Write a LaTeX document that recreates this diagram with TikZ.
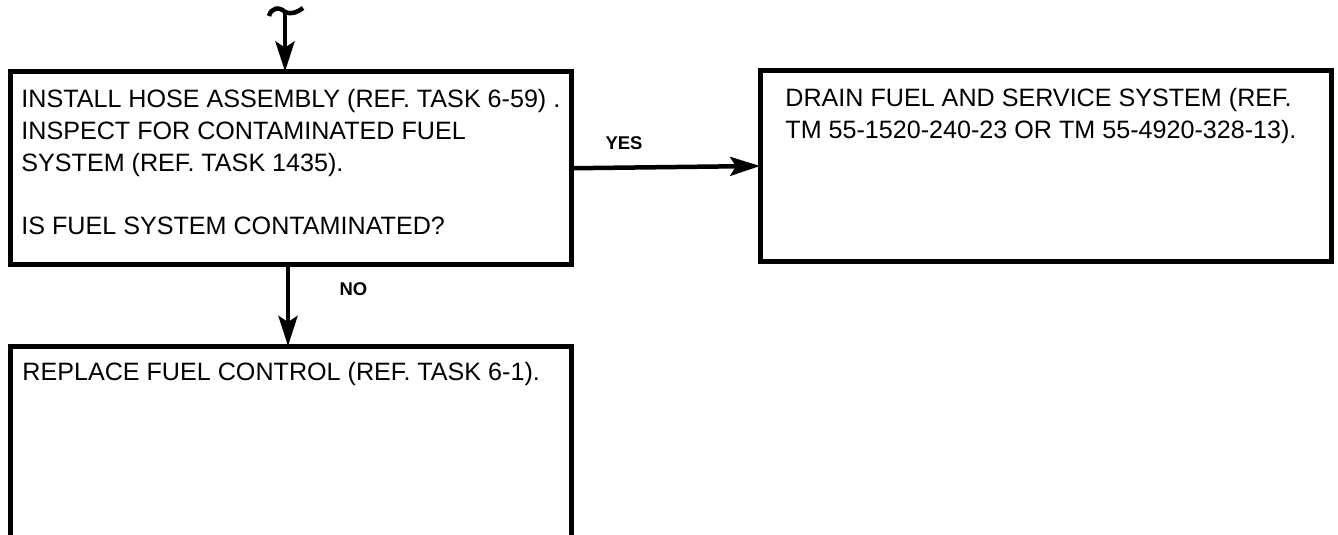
\documentclass[tikz,border=0pt]{standalone}
\usepackage{fontspec}
\setmainfont{Liberation Sans}
\usetikzlibrary{arrows.meta,positioning,calc}

\begin{document}
\begin{tikzpicture}[x=0.02cm, y=-0.02cm,
    stepbox/.style={draw, line width=0.1cm, inner sep=0pt, outer sep=0pt},
    steptext/.style={anchor=north west, align=left, inner sep=0pt,
                     font=\fontsize{14.3}{18.1}\selectfont},
    conn/.style={line width=0.09cm,
                 -{Stealth[length=0.6cm, width=0.38cm, inset=0.12cm]}},
    answer/.style={font=\bfseries\fontsize{10.5}{10.5}\selectfont}
  ]
    \useasboundingbox (0,0) rectangle (1338,534);
    \clip (0,0) rectangle (1338,534);

    % Step 1: decision
    \node[stepbox, minimum width=11.23cm, minimum height=3.87cm] (check)
      at (291.25, 168.25) {};
    \node[steptext] (checktxt) at ($(check.north west)+(10.5,17.5)$) {%
      INSTALL HOSE ASSEMBLY (REF. TASK 6-59) .\\
      INSPECT FOR CONTAMINATED FUEL\\
      SYSTEM (REF. TASK 1435).\\[18.1pt]
      IS FUEL SYSTEM CONTAMINATED?
    };

    % Step 2: yes branch
    \node[stepbox, minimum width=11.44cm, minimum height=3.84cm] (drain)
      at (1046, 166) {};
    \node[steptext] (draintxt) at ($(drain.north west)+(25,18)$) {%
      DRAIN FUEL AND SERVICE SYSTEM (REF.\\
      TM 55-1520-240-23 OR TM 55-4920-328-13).
    };

    % Step 3: no branch
    \node[stepbox, minimum width=11.23cm, minimum height=4.28cm] (replace)
      at (291.25, 453) {};
    \node[steptext] (replacetxt) at ($(replace.north west)+(11.5,16)$) {%
      REPLACE FUEL CONTROL (REF. TASK 6-1).
    };

    % Incoming connector
    \coordinate (entry) at (285,12);
    \draw[line width=0.09cm] (269,16) .. controls (271,8) and (279,6) .. (entry)
      .. controls (291,15) and (298,12) .. (303,8);
    \draw[conn] (entry) -- (entry |- check.north);

    % Answers
    \draw[conn] (check.east) -- (drain.west);
    \node[answer] (yes) at (624, 143.5) {YES};
    \draw[conn] ($(check.south)+(-3.25,0)$) -- ($(replace.north)+(-3.25,0)$);
    \node[answer] (no) at (353.5, 289.5) {NO};
  \end{tikzpicture}
\end{document}
